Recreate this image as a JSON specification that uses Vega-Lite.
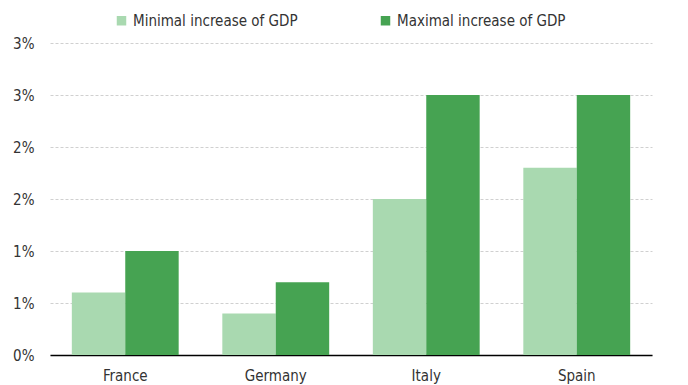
{
  "$schema": "https://vega.github.io/schema/vega-lite/v6.json",
  "width": 602,
  "height": 312,
  "autosize": "none",
  "padding": {"left": 50, "top": 43, "right": 36, "bottom": 30},
  "background": "white",
  "data": {"values": [
    {"country": "France", "series": "Minimal increase of GDP", "value": 0.6},
    {"country": "France", "series": "Maximal increase of GDP", "value": 1.0},
    {"country": "Germany", "series": "Minimal increase of GDP", "value": 0.4},
    {"country": "Germany", "series": "Maximal increase of GDP", "value": 0.7},
    {"country": "Italy", "series": "Minimal increase of GDP", "value": 1.5},
    {"country": "Italy", "series": "Maximal increase of GDP", "value": 2.5},
    {"country": "Spain", "series": "Minimal increase of GDP", "value": 1.8},
    {"country": "Spain", "series": "Maximal increase of GDP", "value": 2.5}
  ]},
  "mark": {"type": "bar"},
  "encoding": {
    "x": {"field": "country", "type": "nominal", "sort": null,
      "scale": {"paddingInner": 0.29, "paddingOuter": 0.145},
      "axis": {"title": null, "labelAngle": 0, "ticks": false, "domain": true, "domainColor": "#000000", "domainWidth": 1.5, "labelPadding": 13, "labelFontSize": 15, "labelColor": "#333333", "labelFont": "DejaVu Sans Condensed"}},
    "xOffset": {"field": "series", "type": "nominal", "sort": ["Minimal increase of GDP", "Maximal increase of GDP"]},
    "y": {"field": "value", "type": "quantitative",
      "scale": {"domain": [0, 3], "nice": false},
      "axis": {"title": null, "values": [0, 0.5, 1, 1.5, 2, 2.5, 3], "labelExpr": "round(datum.value) + '%'", "domain": false, "ticks": false, "labelPadding": 16, "labelFontSize": 15, "labelColor": "#333333", "labelFont": "DejaVu Sans Condensed", "gridDash": [3, 2], "gridColor": "#d0d0d0"}},
    "color": {"field": "series", "type": "nominal", "sort": ["Minimal increase of GDP", "Maximal increase of GDP"],
      "scale": {"domain": ["Minimal increase of GDP", "Maximal increase of GDP"], "range": ["#a9d9b0", "#46a352"]},
      "legend": {"title": null, "orient": "none", "legendX": 64, "legendY": -30, "direction": "horizontal", "columns": 2, "columnPadding": 80, "symbolType": "square", "symbolSize": 90, "symbolStrokeWidth": 0, "labelFontSize": 15, "labelLimit": 400, "labelColor": "#333333", "labelFont": "DejaVu Sans Condensed", "labelOffset": 4}}
  },
  "config": {"view": {"stroke": null}}
}
